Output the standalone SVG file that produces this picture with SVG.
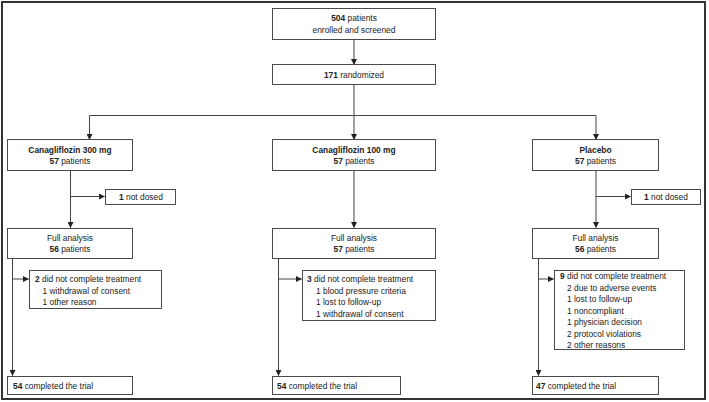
<svg xmlns="http://www.w3.org/2000/svg" width="709" height="402" viewBox="0 0 709 402">
<defs>
<marker id="ah" markerWidth="6" markerHeight="6" refX="5.5" refY="3" orient="auto" markerUnits="userSpaceOnUse">
<path d="M0,0 L6,3 L0,6 Z" fill="#222"/>
</marker>
<style>
.box{fill:#fff;stroke:#4a4a4a;stroke-width:1}
.ln{fill:none;stroke:#444;stroke-width:1}
text{font-family:"Liberation Sans",Arial,sans-serif;font-size:8.4px;fill:#222}
.c{text-anchor:middle}
.b{font-weight:bold}
</style>
</defs>
<rect x="0" y="0" width="709" height="402" fill="#fff"/>
<rect x="2" y="2" width="703" height="397" fill="none" stroke="#333" stroke-width="2"/>

<g id="connectors">
<path class="ln" d="M354,39.5 V64.5" marker-end="url(#ah)"/>
<path class="ln" d="M354,84.5 V139.5" marker-end="url(#ah)"/>
<path class="ln" d="M89.5,115.5 H596" />
<path class="ln" d="M89.5,115.5 V139.5" marker-end="url(#ah)"/>
<path class="ln" d="M596,115.5 V139.5" marker-end="url(#ah)"/>
<path class="ln" d="M70.5,171 V227.5" marker-end="url(#ah)"/>
<path class="ln" d="M70.5,196.5 H104.5" marker-end="url(#ah)"/>
<path class="ln" d="M354,171 V227.5" marker-end="url(#ah)"/>
<path class="ln" d="M596,171 V227.5" marker-end="url(#ah)"/>
<path class="ln" d="M596,196.5 H630.5" marker-end="url(#ah)"/>
<path class="ln" d="M12.5,258 V375.5" marker-end="url(#ah)"/>
<path class="ln" d="M12.5,279 H28.5" marker-end="url(#ah)"/>
<path class="ln" d="M278.5,258 V375.5" marker-end="url(#ah)"/>
<path class="ln" d="M278.5,279 H301.5" marker-end="url(#ah)"/>
<path class="ln" d="M538.5,258 V375.5" marker-end="url(#ah)"/>
<path class="ln" d="M538.5,279 H553.5" marker-end="url(#ah)"/>
</g>

<g id="enrolled">
<rect class="box" x="272.5" y="8.5" width="163" height="31"/>
<text class="c" x="354" y="21"><tspan class="b">504</tspan> patients</text>
<text class="c" x="354" y="33">enrolled and screened</text>
</g>
<g id="randomized">
<rect class="box" x="272.5" y="64.5" width="163" height="20"/>
<text class="c" x="354" y="78"><tspan class="b">171</tspan> randomized</text>
</g>

<g id="cana300">
<rect class="box" x="7.5" y="139.5" width="125" height="31"/>
<text class="c b" x="70" y="153">Canagliflozin 300 mg</text>
<text class="c" x="70" y="164"><tspan class="b">57</tspan> patients</text>
</g>
<g id="cana100">
<rect class="box" x="272.5" y="139.5" width="163" height="31"/>
<text class="c b" x="354" y="153">Canagliflozin 100 mg</text>
<text class="c" x="354" y="164"><tspan class="b">57</tspan> patients</text>
</g>
<g id="placebo">
<rect class="box" x="532.5" y="139.5" width="126" height="31"/>
<text class="c b" x="595.5" y="153">Placebo</text>
<text class="c" x="595.5" y="164"><tspan class="b">57</tspan> patients</text>
</g>

<g id="notdosed300">
<rect class="box" x="105.5" y="189.5" width="70" height="15"/>
<text x="119" y="200"><tspan class="b">1</tspan> not dosed</text>
</g>
<g id="notdosedPlacebo">
<rect class="box" x="631.5" y="189.5" width="69" height="15"/>
<text x="644" y="200"><tspan class="b">1</tspan> not dosed</text>
</g>

<g id="fa300">
<rect class="box" x="7.5" y="228.5" width="125" height="30"/>
<text class="c" x="70" y="241">Full analysis</text>
<text class="c" x="70" y="252"><tspan class="b">56</tspan> patients</text>
</g>
<g id="fa100">
<rect class="box" x="272.5" y="228.5" width="163" height="30"/>
<text class="c" x="354" y="241">Full analysis</text>
<text class="c" x="354" y="252"><tspan class="b">57</tspan> patients</text>
</g>
<g id="faPlacebo">
<rect class="box" x="532.5" y="228.5" width="126" height="30"/>
<text class="c" x="595.5" y="241">Full analysis</text>
<text class="c" x="595.5" y="252"><tspan class="b">56</tspan> patients</text>
</g>

<g id="dnc300">
<rect class="box" x="29.5" y="270.5" width="132" height="38"/>
<text x="35" y="282"><tspan class="b">2</tspan> did not complete treatment</text>
<text x="42.5" y="293.5">1 withdrawal of consent</text>
<text x="42.5" y="305">1 other reason</text>
</g>
<g id="dnc100">
<rect class="box" x="302.5" y="270.5" width="133" height="50"/>
<text x="307" y="282"><tspan class="b">3</tspan> did not complete treatment</text>
<text x="316" y="293.5">1 blood pressure criteria</text>
<text x="316" y="305">1 lost to follow-up</text>
<text x="316" y="316.5">1 withdrawal of consent</text>
</g>
<g id="dncPlacebo">
<rect class="box" x="554.5" y="270.5" width="130" height="79"/>
<text x="560" y="279"><tspan class="b">9</tspan> did not complete treatment</text>
<text x="567" y="290.5">2 due to adverse events</text>
<text x="567" y="302">1 lost to follow-up</text>
<text x="567" y="313.5">1 noncompliant</text>
<text x="567" y="325">1 physician decision</text>
<text x="567" y="336.5">2 protocol violations</text>
<text x="567" y="348">2 other reasons</text>
</g>

<g id="comp300">
<rect class="box" x="7.5" y="376.5" width="125" height="18"/>
<text x="13" y="389"><tspan class="b">54</tspan> completed the trial</text>
</g>
<g id="comp100">
<rect class="box" x="272.5" y="376.5" width="128" height="18"/>
<text x="277" y="389"><tspan class="b">54</tspan> completed the trial</text>
</g>
<g id="compPlacebo">
<rect class="box" x="532.5" y="376.5" width="126" height="18"/>
<text x="536" y="389"><tspan class="b">47</tspan> completed the trial</text>
</g>
</svg>
